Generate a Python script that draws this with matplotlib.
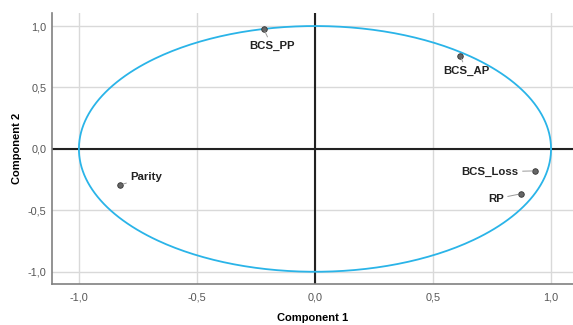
import matplotlib
matplotlib.use("Agg")
import matplotlib.pyplot as plt
import numpy as np

# Component loadings
names = ["BCS_PP", "BCS_AP", "Parity", "BCS_Loss", "RP"]
comp1 = [-0.217, 0.616, -0.824, 0.934, 0.871]
comp2 = [0.976, 0.756, -0.293, -0.179, -0.366]

ticks = [-1.0, -0.5, 0.0, 0.5, 1.0]
tick_labels = ["-1,0", "-0,5", "0,0", "0,5", "1,0"]

# label offsets in pixels (dx, dy, ha)
offsets = {
    "BCS_PP": (8, -17, "center"),
    "BCS_AP": (6, -15, "center"),
    "Parity": (10, 8, "left"),
    "BCS_Loss": (-17, -1, "right"),
    "RP": (-17, -5, "right"),
}

plt.rcParams["font.family"] = ["Liberation Sans", "DejaVu Sans"]

fig = plt.figure(figsize=(5.73, 3.25), dpi=100)
ax = fig.add_axes([52 / 573, 0.126, 521 / 573, 0.834])

ax.set_xlim(-1.114, 1.093)
ax.set_ylim(-1.1, 1.106)

ax.set_xticks(ticks)
ax.set_xticklabels(tick_labels)
ax.set_yticks(ticks)
ax.set_yticklabels(tick_labels)
ax.tick_params(axis="y", length=0, labelsize=7.8, labelcolor="#555555", pad=4)
ax.tick_params(axis="x", length=0, labelsize=7.8, labelcolor="#555555", pad=6)

ax.grid(True, color="#d9d9d9", linewidth=1)
ax.set_axisbelow(True)

for s in ["top", "right"]:
    ax.spines[s].set_visible(False)
for s in ["left", "bottom"]:
    ax.spines[s].set_color("#808080")
    ax.spines[s].set_linewidth(1.2)

ax.axhline(0, color="#222222", linewidth=1.5, zorder=2)
ax.axvline(0, color="#222222", linewidth=1.5, zorder=2)

# unit circle
t = np.linspace(0, 2 * np.pi, 400)
ax.plot(np.cos(t), np.sin(t), color="#2ab4e8", linewidth=1.3, zorder=3)

ax.scatter(comp1, comp2, s=16, color="#666666", edgecolors="#333333",
           linewidths=0.6, zorder=5)

for n, x, y in zip(names, comp1, comp2):
    dx, dy, ha = offsets[n]
    ax.annotate(n, (x, y), xytext=(dx, dy), textcoords="offset pixels",
                ha=ha, va="center", fontsize=8.2, fontweight="bold",
                color="#222222",
                arrowprops=dict(arrowstyle="-", color="#999999", lw=0.7,
                                shrinkA=1, shrinkB=2), zorder=6)

ax.set_xlabel("Component 1", fontsize=8, fontweight="bold", labelpad=8)
ax.set_ylabel("Component 2", fontsize=8, fontweight="bold", labelpad=4)

fig.savefig("out.png", dpi=100)
